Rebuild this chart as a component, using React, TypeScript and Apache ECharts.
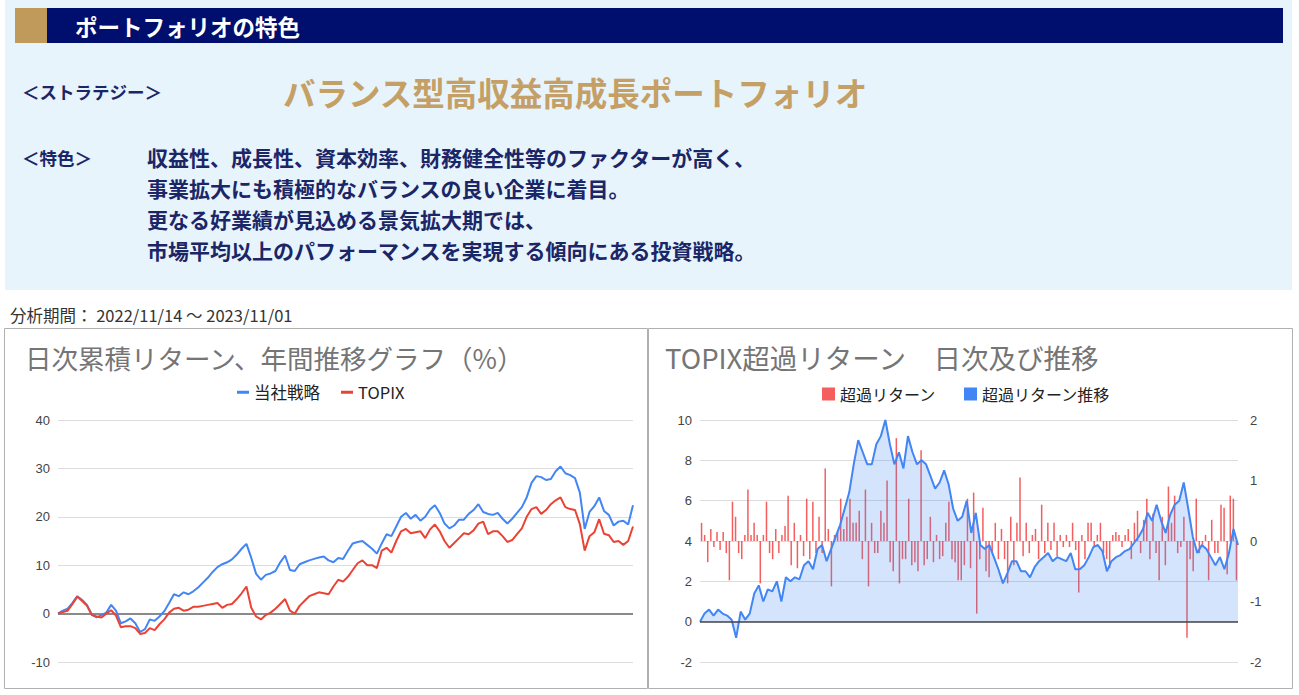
import React, { useEffect, useRef } from "react";
import * as echarts from "echarts";

// ---- texts ----
const headerTitle = "ポートフォリオの特色";
const strategyLabel = "＜ストラテジー＞";
const strategyName = "バランス型高収益高成長ポートフォリオ";
const featureLabel = "＜特色＞";
const featureLines = [
  "収益性、成長性、資本効率、財務健全性等のファクターが高く、",
  "事業拡大にも積極的なバランスの良い企業に着目。",
  "更なる好業績が見込める景気拡大期では、",
  "市場平均以上のパフォーマンスを実現する傾向にある投資戦略。",
];
const periodText = "分析期間： 2022/11/14 ～ 2023/11/01";
const leftTitle = "日次累積リターン、年間推移グラフ（%）";
const rightTitle = "TOPIX超過リターン　日次及び推移";
const leftSeriesNames = ["当社戦略", "TOPIX"];
const rightSeriesNames = ["超過リターン", "超過リターン推移"];

// ---- tick labels ----
const leftTicks = [-10, 0, 10, 20, 30, 40];
const excessCumTicks = [-2, 0, 2, 4, 6, 8, 10];
const excessDailyTicks = [-2, -1, 0, 1, 2];

// ---- data ----
const strategyCum = [
  0, 0.6, 1.0, 2.2, 3.6, 2.8, 1.8, -0.2, -0.8, -0.3,
  0.2, 1.8, 0.6, -2.0, -1.6, -1.0, -2.0, -3.8, -3.2, -1.2,
  -1.5, -0.6, 0.5, 2.2, 4.0, 3.6, 4.4, 4.0, 4.6, 5.4,
  6.4, 7.4, 8.6, 9.6, 10.2, 10.6, 11.2, 12.2, 13.4, 14.4,
  11.5, 8.2, 7.0, 8.0, 8.3, 8.8, 10.6, 12.0, 9.0, 8.8,
  10.2, 10.6, 11.0, 11.3, 11.6, 11.8, 11.0, 10.6, 11.5, 11.3,
  13.0, 14.5, 14.8, 15.0, 14.2, 13.4, 12.4, 14.5, 16.4, 16.0,
  18.0, 20.0, 20.8, 19.6, 20.4, 19.2, 20.0, 21.5, 22.4, 20.8,
  18.6, 17.6, 18.2, 19.4, 19.4, 20.6, 21.4, 22.6, 21.0, 20.6,
  20.4, 20.8, 19.6, 18.6, 19.6, 20.8, 22.0, 24.0, 27.0, 28.4,
  28.2, 27.6, 27.8, 29.4, 30.4, 29.0, 28.6, 28.0, 25.0, 17.5,
  21.0, 22.2, 24.0, 21.2, 20.4, 18.2, 19.0, 19.2, 18.4, 22.4,
];
const topixCum = [
  0, 0.3, 0.6, 2.0, 3.5, 2.6, 1.6, -0.3, -0.6, -0.8,
  0, 0.7, -0.4, -2.8, -2.6, -2.6, -3.0, -4.2, -4.0, -3.0,
  -3.4, -2.2, -1.2, 0.2, 1.0, 1.2, 0.6, 0.8, 1.4, 1.4,
  1.6, 1.8, 2.0, 2.2, 1.2, 1.8, 2.0, 3.0, 4.2, 5.6,
  1.2, -0.6, -1.2, -0.3, 0.2, 1.0, 2.0, 3.0, 0.6, 0,
  1.6, 2.6, 3.6, 4.0, 4.4, 4.2, 4.0, 5.6, 7.0, 6.6,
  7.6, 9.0, 10.4, 11.0, 10.0, 10.0, 9.4, 13.0, 13.6, 12.6,
  15.0, 17.0, 17.5, 16.6, 16.8, 17.0, 15.6, 17.4, 18.4, 17.0,
  15.0, 13.6, 14.6, 15.6, 16.6, 16.4, 17.2, 18.6, 19.0, 16.4,
  17.0, 17.0, 16.0, 14.8, 15.2, 16.4, 17.6, 20.0, 21.6, 22.0,
  20.6, 21.4, 22.6, 23.4, 24.0, 22.0, 21.6, 21.4, 18.5, 13.0,
  16.0, 16.8, 19.5, 16.5, 16.2, 14.8, 15.0, 14.2, 15.0, 18.0,
];
const excessCum = [
  0, 0.4, 0.6, 0.3, 0.6, 0.4, 0.3, 0.1, -0.8, 0.5,
  0.1, 0.4, 1.4, 1.8, 1.0, 1.6, 1.5, 2.0, 1.0, 2.2,
  2.0, 2.2, 2.1, 2.8, 3.0, 2.6, 3.6, 3.8, 3.0, 3.6,
  4.2, 4.8, 5.6, 6.4, 7.8, 9.0, 8.4, 7.8, 7.8, 8.8,
  9.2, 10.0, 8.8, 7.8, 8.4, 7.6, 9.2, 8.4, 7.8, 8.0,
  7.8, 7.2, 6.6, 6.9, 7.5, 6.8, 5.6, 5.0, 5.2, 6.0,
  4.4, 5.4, 3.8, 3.6, 3.8, 3.2, 2.6, 1.9, 2.4, 3.0,
  3.0, 2.5, 2.5, 2.2, 2.7, 3.0, 3.2, 3.4, 3.0, 3.2,
  3.1, 3.0, 3.4, 2.6, 2.6, 2.8, 3.2, 3.7, 3.8, 3.5,
  2.5, 3.0, 3.2, 3.3, 3.5, 3.6, 3.9, 4.2, 4.6, 5.4,
  5.0, 5.8, 5.0, 4.4, 5.3, 5.8, 6.0, 6.9, 5.6, 4.2,
  3.4, 3.8, 3.6, 3.2, 2.8, 3.2, 2.6, 3.4, 4.6, 3.8,
];
const excessDaily = [
  0.3, 0.1, -0.35, 0.2, -0.1, 0.15, -0.15, 0.15, -0.2, -0.65,
  0.65, 0.4, -0.2, -0.3, 0.1, 0.85, 0.1, 0.3, 0.1, -0.7,
  0.1, 0.65, -0.2, -0.3, 0.2, -0.2, 0.1, 0.25, 0.75, -0.4,
  0.3, -0.45, 0.1, -0.25, 0.7, -0.3, 0.65, -0.2, 0.4, -0.2,
  1.2, 0.2, -0.75, 0.1, 0.15, 0.7, 0.2, 0.4, 0.7, 0.3,
  0.3, 0.5, -0.3, 0.85, -0.75, 0.3, -0.2, -0.2, 0.5, 0.3,
  1.0, -0.35, -0.5, 1.7, -0.7, -0.3, -0.3, 0.7, -0.4, -0.35,
  -0.5, 1.5, -0.4, -0.3, 0.4, -0.35, 0.1, -0.3, -0.25, 0.3,
  0.65, -0.3, -0.35, -0.65, -0.65, -0.4, 0.7, -0.45, 0.8, -1.2,
  -0.3, 0.55, -0.5, -0.6, -0.2, 0.3, -0.3, 0.2, -0.3, -0.7,
  0.4, -0.4, 0.3, 1.05, -0.25, 0.3, -0.2, 0.1, 0.2, -0.3,
  0.6, -0.2, 0.3, -0.15, 0.3, -0.25, 0.1, -0.1, 0.1, -0.1,
  0.3, -0.15, -0.85, 0.1, -0.3, 0.3, 0.3, -0.1, 0.1, 0.3,
  -0.2, -0.3, -0.45, 0.1, 0.15, 0.1, -0.1, 0.1, 0.2, -0.3,
  0.3, 0.5, -0.2, 0.35, 0.7, -0.3, 0.45, -0.2, -0.65, 0.4,
  -0.4, 0.9, 0.3, 0.75, -0.2, -0.1, 0.4, -1.6, -0.3, -0.5,
  0.7, -0.2, -0.1, 0.1, -0.65, 0.35, -0.2, -0.2, 0.6, 0.55,
  -0.55, 0.75, 0.7, -0.65,
];

// trading-day index categories
const dayIndex = (n: number) => Array.from({ length: n }, (_, i) => String(i + 1));

const LATIN = '"Liberation Sans", Arial, "Noto Sans CJK JP", sans-serif';
const CJK = '"Noto Sans CJK JP", "Liberation Sans", sans-serif';

const BLUE = "#4285f4";
const RED = "#ea4335";

function txt(text: string, x: number, y: number, font: string, fill: string, align = "left") {
  return {
    type: "text",
    style: {
      text, x, y, font, fill,
      textAlign: align, textVerticalAlign: "middle",
      align, verticalAlign: "middle",
    },
  };
}

export default function App() {
  const ref = useRef<HTMLDivElement>(null);
  useEffect(() => {
    const chart = echarts.init(ref.current!, null, { renderer: "svg" });
    const axisLabel = { color: "#444", fontSize: 13, fontFamily: LATIN };
    const option: any = {
      animation: false,
      backgroundColor: "#ffffff",
      textStyle: { fontFamily: CJK },
      graphic: [
        { type: "rect", shape: { x: 5, y: 0, width: 1287, height: 290 }, style: { fill: "#e8f4fc" } },
        { type: "rect", shape: { x: 15, y: 8, width: 1268, height: 35 }, style: { fill: "#000e6e" } },
        { type: "rect", shape: { x: 15, y: 8, width: 32, height: 35 }, style: { fill: "#c09a5b" } },
        txt(headerTitle, 75, 26, `bold 22.5px ${CJK}`, "#ffffff"),
        txt(strategyLabel, 22, 91, `bold 17.5px ${CJK}`, "#1b2667"),
        txt(strategyName, 283, 91, `bold 32.5px ${CJK}`, "#c4a066"),
        txt(featureLabel, 22, 157, `bold 17.5px ${CJK}`, "#1b2667"),
        ...featureLines.map((l, i) => txt(l, 147, 157 + i * 31, `bold 21px ${CJK}`, "#1b2667")),
        txt(periodText, 10, 315, `16.5px ${CJK}`, "#333333"),
        { type: "rect", shape: { x: 4.5, y: 328.5, width: 643, height: 360 }, style: { fill: "none", stroke: "#b0b0b0", lineWidth: 1 } },
        { type: "rect", shape: { x: 648.5, y: 328.5, width: 644, height: 360 }, style: { fill: "none", stroke: "#b0b0b0", lineWidth: 1 } },
        txt(leftTitle, 25, 357, `26.5px ${CJK}`, "#757575"),
        txt(rightTitle, 665, 357, `27.5px ${CJK}`, "#757575"),
      ],
      legend: [
        {
          data: leftSeriesNames, left: 237, top: 384, padding: 0, icon: "rect",
          itemWidth: 12, itemHeight: 3, itemGap: 21,
          textStyle: { fontSize: 16.5, color: "#222", fontFamily: CJK },
        },
        {
          data: rightSeriesNames, left: 822, top: 386, padding: 0, icon: "rect",
          itemWidth: 13, itemHeight: 13, itemGap: 28,
          textStyle: { fontSize: 16, color: "#222", fontFamily: CJK },
        },
      ],
      grid: [
        { left: 58, right: 666, top: 420, bottom: 33 },
        { left: 700, right: 61, top: 420, bottom: 33 },
      ],
      xAxis: [
        { gridIndex: 0, type: "category", data: dayIndex(strategyCum.length), boundaryGap: false, show: false },
        { gridIndex: 1, type: "category", data: dayIndex(excessDaily.length), boundaryGap: true, show: false },
        { gridIndex: 1, type: "category", data: dayIndex(excessCum.length), boundaryGap: false, show: false },
      ],
      yAxis: [
        {
          gridIndex: 0, type: "value",
          min: leftTicks[0], max: leftTicks[leftTicks.length - 1], interval: leftTicks[1] - leftTicks[0],
          axisLine: { show: false }, axisTick: { show: false },
          axisLabel: { ...axisLabel, margin: 8 },
          splitLine: { lineStyle: { color: "#dddddd", width: 1 } },
        },
        {
          gridIndex: 1, type: "value", position: "left",
          min: excessCumTicks[0], max: excessCumTicks[excessCumTicks.length - 1], interval: excessCumTicks[1] - excessCumTicks[0],
          axisLine: { show: false }, axisTick: { show: false },
          axisLabel: { ...axisLabel, margin: 8 },
          splitLine: { lineStyle: { color: "#dddddd", width: 1 } },
        },
        {
          gridIndex: 1, type: "value", position: "right",
          min: excessDailyTicks[0], max: excessDailyTicks[excessDailyTicks.length - 1], interval: excessDailyTicks[1] - excessDailyTicks[0],
          axisLine: { show: false }, axisTick: { show: false },
          axisLabel: { ...axisLabel, margin: 12 },
          splitLine: { show: false },
        },
      ],
      series: [
        {
          name: leftSeriesNames[0], type: "line", xAxisIndex: 0, yAxisIndex: 0,
          data: strategyCum, showSymbol: false, symbol: "none",
          lineStyle: { color: BLUE, width: 2 }, itemStyle: { color: BLUE }, z: 3,
        },
        {
          name: leftSeriesNames[1], type: "line", xAxisIndex: 0, yAxisIndex: 0,
          data: topixCum, showSymbol: false, symbol: "none",
          lineStyle: { color: RED, width: 2 }, itemStyle: { color: RED }, z: 4,
          markLine: {
            silent: true, symbol: ["none", "none"], label: { show: false },
            lineStyle: { color: "#8a8a8a", width: 2, type: "solid" },
            data: [{ yAxis: 0 }], z: 2,
          },
        },
        {
          name: rightSeriesNames[0], type: "bar", xAxisIndex: 1, yAxisIndex: 2,
          data: excessDaily, barWidth: 1.5,
          itemStyle: { color: "rgba(240,40,40,0.75)" }, z: 2,
        },
        {
          name: rightSeriesNames[1], type: "line", xAxisIndex: 2, yAxisIndex: 1,
          data: excessCum, showSymbol: false, symbol: "none",
          lineStyle: { color: BLUE, width: 2 }, itemStyle: { color: BLUE },
          areaStyle: { color: "rgba(66,133,244,0.32)" }, z: 3,
          markLine: {
            silent: true, symbol: ["none", "none"], label: { show: false },
            lineStyle: { color: "#444444", width: 1.5, type: "solid" },
            data: [{ yAxis: 0 }],
          },
        },
      ],
    };
    chart.setOption(option);
    return () => chart.dispose();
  }, []);
  return (
    <div
      ref={ref}
      style={{ position: "fixed", left: 0, top: 0, width: 1299, height: 695, background: "#fff" }}
    />
  );
}
